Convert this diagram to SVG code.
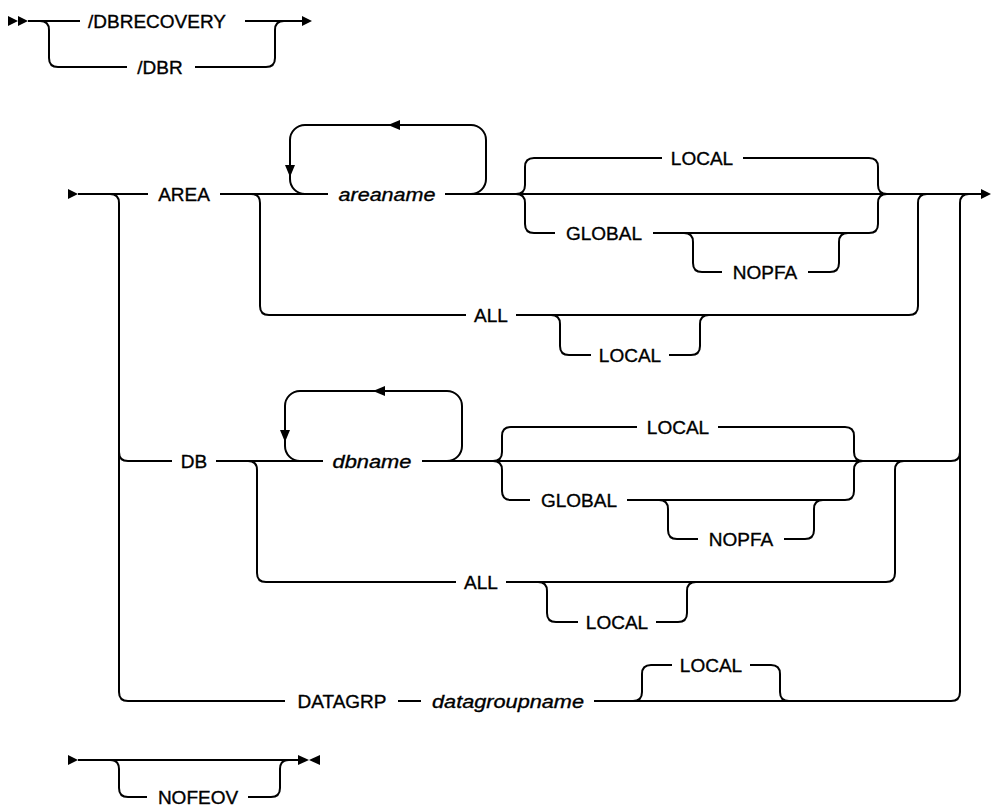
<svg xmlns="http://www.w3.org/2000/svg" width="991" height="808" viewBox="0 0 991 808">
<style>
.l{fill:none;stroke:#000;stroke-width:2;stroke-linecap:butt}
.a{fill:#000;stroke:none}
text{font-family:"Liberation Sans",Arial,sans-serif;font-size:19px;fill:#000;stroke:#000;stroke-width:0.35;text-anchor:middle}
.v{font-style:italic}
</style>
<rect width="991" height="808" fill="#fff"/>
<g id="connectors">
<path class="l" d="M28,21 L80,21 M40,21 Q49,21 49,30 L49,58 Q49,67 58,67 L127,67 M195,67 L266,67 Q275,67 275,58 L275,30 Q275,21 284,21 M245,21 L303,21"/>
<path class="l" d="M78,194 L148,194 M220,194 L328,194 M445,194 L981,194"/>
<path class="l" d="M110,194 Q119,194 119,203 L119,692 Q119,701 128,701 M119,452 Q119,461 128,461"/>
<path class="l" d="M969,194 Q960,194 960,203 L960,692 Q960,701 951,701 M951,461 Q960,461 960,452"/>
<path class="l" d="M305,194 A15,15 0 0 1 290,179 L290,140 A15,15 0 0 1 305,125 L471,125 A15,15 0 0 1 486,140 L486,179 A15,15 0 0 1 471,194"/>
<path class="l" d="M516,194 Q525,194 525,185 L525,167 Q525,158 534,158 L662,158 M743,158 L869,158 Q878,158 878,167 L878,185 Q878,194 887,194"/>
<path class="l" d="M516,194 Q525,194 525,203 L525,224 Q525,233 534,233 L555,233 M653,233 L869,233 Q878,233 878,224 L878,203 Q878,194 887,194"/>
<path class="l" d="M684,233 Q693,233 693,242 L693,263 Q693,272 702,272 L722,272 M808,272 L830,272 Q839,272 839,263 L839,242 Q839,233 848,233"/>
<path class="l" d="M251,194 Q260,194 260,203 L260,306 Q260,315 269,315 L466,315 M516,315 L909,315 Q918,315 918,306 L918,203 Q918,194 927,194"/>
<path class="l" d="M551,315 Q560,315 560,324 L560,346 Q560,355 569,355 L591,355 M669,355 L691,355 Q700,355 700,346 L700,324 Q700,315 709,315"/>
<path class="l" d="M128,461 L172,461 M216,461 L323,461 M422,461 L951,461"/>
<path class="l" d="M300,461 A15,15 0 0 1 285,446 L285,406 A15,15 0 0 1 300,391 L447,391 A15,15 0 0 1 462,406 L462,446 A15,15 0 0 1 447,461"/>
<path class="l" d="M493,461 Q502,461 502,452 L502,436 Q502,427 511,427 L637,427 M718,427 L845,427 Q854,427 854,436 L854,452 Q854,461 863,461"/>
<path class="l" d="M493,461 Q502,461 502,470 L502,491 Q502,500 511,500 L530,500 M627,500 L845,500 Q854,500 854,491 L854,470 Q854,461 863,461"/>
<path class="l" d="M659,500 Q668,500 668,509 L668,530 Q668,539 677,539 L698,539 M784,539 L805,539 Q814,539 814,530 L814,509 Q814,500 823,500"/>
<path class="l" d="M248,461 Q257,461 257,470 L257,573 Q257,582 266,582 L456,582 M506,582 L886,582 Q895,582 895,573 L895,470 Q895,461 904,461"/>
<path class="l" d="M538,582 Q547,582 547,591 L547,613 Q547,622 556,622 L578,622 M656,622 L678,622 Q687,622 687,613 L687,591 Q687,582 696,582"/>
<path class="l" d="M128,701 L285,701 M398,701 L421,701 M594,701 L951,701"/>
<path class="l" d="M633,701 Q642,701 642,692 L642,674 Q642,665 651,665 L672,665 M750,665 L771,665 Q780,665 780,674 L780,692 Q780,701 789,701"/>
<path class="l" d="M78,760 L298,760 M110,760 Q119,760 119,769 L119,788 Q119,797 128,797 L147,797 M248,797 L271,797 Q280,797 280,788 L280,769 Q280,760 289,760"/>
<polygon class="a" points="8,16 18,21 8,26"/>
<polygon class="a" points="18,16 28,21 18,26"/>
<polygon class="a" points="302,16 312,21 302,26"/>
<polygon class="a" points="68,189 78,194 68,199"/>
<polygon class="a" points="981,189 991,194 981,199"/>
<polygon class="a" points="388,125 400,120 400,130"/>
<polygon class="a" points="285,165 295,165 290,177"/>
<polygon class="a" points="373,391 385,386 385,396"/>
<polygon class="a" points="280,430 290,430 285,442"/>
<polygon class="a" points="68,755 78,760 68,765"/>
<polygon class="a" points="298,755 309,760 298,765"/>
<polygon class="a" points="320,755 309,760 320,765"/>
</g>
<g id="n-dbrecovery"><text x="157" y="28">/DBRECOVERY</text></g>
<g id="n-dbr"><text x="160" y="74">/DBR</text></g>
<g id="n-area"><text x="184" y="201">AREA</text></g>
<g id="n-areaname"><text class="v" x="387" y="201" textLength="97" lengthAdjust="spacingAndGlyphs">areaname</text></g>
<g id="n-area-local"><text x="702" y="165">LOCAL</text></g>
<g id="n-area-global"><text x="604" y="240">GLOBAL</text></g>
<g id="n-area-nopfa"><text x="765" y="279">NOPFA</text></g>
<g id="n-area-all"><text x="491" y="322">ALL</text></g>
<g id="n-area-all-local"><text x="630" y="362">LOCAL</text></g>
<g id="n-db"><text x="194" y="468">DB</text></g>
<g id="n-dbname"><text class="v" x="372" y="468" textLength="79" lengthAdjust="spacingAndGlyphs">dbname</text></g>
<g id="n-db-local"><text x="678" y="434">LOCAL</text></g>
<g id="n-db-global"><text x="579" y="507">GLOBAL</text></g>
<g id="n-db-nopfa"><text x="741" y="546">NOPFA</text></g>
<g id="n-db-all"><text x="481" y="589">ALL</text></g>
<g id="n-db-all-local"><text x="617" y="629">LOCAL</text></g>
<g id="n-datagrp"><text x="342" y="708">DATAGRP</text></g>
<g id="n-datagroupname"><text class="v" x="508" y="708" textLength="152" lengthAdjust="spacingAndGlyphs">datagroupname</text></g>
<g id="n-datagrp-local"><text x="711" y="672">LOCAL</text></g>
<g id="n-nofeov"><text x="198" y="804">NOFEOV</text></g>
</svg>
